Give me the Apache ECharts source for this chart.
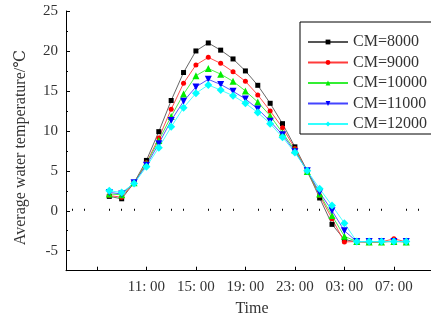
<!DOCTYPE html>
<html>
<head>
<meta charset="utf-8">
<script src="https://cdn.jsdelivr.net/npm/echarts@6/dist/echarts.min.js"></script>
<style>
html,body{margin:0;padding:0;background:#fff;}
#c{width:431px;height:322px;}
</style>
</head>
<body>
<div id="c"></div>
<script>
var hours = [8,9,10,11,12,13,14,15,16,17,18,19,20,21,22,23,24,25,26,27,28,29,30,31,32];
var cm8000  = [1.8,1.5,3.5,6.3,9.9,13.8,17.3,20.0,21.0,20.1,19.0,17.5,15.7,13.45,10.9,8.0,5.0,1.6,-1.7,-3.6,-3.9,-3.9,-3.9,-3.8,-3.9];
var cm9000  = [1.9,1.7,3.5,6.0,9.1,12.7,15.95,18.25,19.2,18.45,17.4,16.2,14.5,12.5,10.4,7.8,4.9,1.9,-1.0,-3.9,-3.85,-3.9,-3.9,-3.5,-3.9];
var cm10000 = [2.1,2.0,3.5,5.9,8.8,11.8,14.6,16.9,17.8,17.1,16.2,15.0,13.6,11.9,9.75,7.6,4.9,2.1,-0.6,-3.2,-3.85,-3.9,-3.9,-3.85,-3.9];
var cm11000 = [2.3,2.1,3.5,5.7,8.4,11.3,13.7,15.5,16.45,15.8,14.95,14.0,12.75,11.2,9.5,7.4,5.0,2.3,0.0,-2.5,-3.85,-3.85,-3.85,-3.85,-3.85];
var cm12000 = [2.5,2.3,3.4,5.5,7.9,10.5,12.9,14.7,15.75,15.1,14.4,13.45,12.3,10.9,9.2,7.3,5.0,2.75,0.65,-1.55,-3.85,-3.85,-3.85,-3.85,-3.85];
var seriesNames = ['CM=8000','CM=9000','CM=10000','CM=11000','CM=12000'];
var xTickLabels = {11:'11: 00',15:'15: 00',19:'19: 00',23:'23: 00',27:'03: 00',31:'07: 00'};
var xLabelValues = [11,15,19,23,27,31];
var xMajorTicks = [7,11,15,19,23,27,31];
var xMinorTicks = [5,6,8,9,10,12,13,14,16,17,18,20,21,22,24,25,26,28,29,30,32,33];
var yLabelValues = [-5,0,5,10,15,20,25];
var yMinorTicks = [-2.5,2.5,7.5,12.5,17.5,22.5];
var yTitle = 'Average water temperature/℃';
var xTitle = 'Time';

function pairs(vals){ return hours.map(function(h,i){ return [h, vals[i]]; }); }

var FONT = "'Liberation Serif','DejaVu Serif',serif";
var chart = echarts.init(document.getElementById('c'), null, {renderer:'canvas'});
var axisLineStyle = {color:'#000', width:1};
var styles = [
  {color:'#000000', line:'#555555', symbol:'rect', size:5, rotate:0},
  {color:'#ff0000', line:'#ff3b3b', symbol:'circle', size:5, rotate:0},
  {color:'#00ee00', line:'#33ee33', symbol:'triangle', size:7, rotate:0},
  {color:'#0000ff', line:'#4444ff', symbol:'triangle', size:7, rotate:180},
  {color:'#00ffff', line:'#33ffff', symbol:'diamond', size:8, rotate:0}
];
var data = [cm8000, cm9000, cm10000, cm11000, cm12000];

chart.setOption({
  animation:false,
  backgroundColor:'#fff',
  grid:{left:66, top:11, right:-2, bottom:51.3, containLabel:false},
  xAxis:[{
    type:'value', min:4.5, max:34,
    axisLine:{show:true, onZero:false, lineStyle:axisLineStyle},
    axisTick:{show:true, inside:true, length:4, customValues:xMajorTicks, lineStyle:axisLineStyle},
    axisLabel:{show:true, customValues:xLabelValues, margin:9, color:'#333', fontFamily:FONT, fontSize:15,
      formatter:function(v){ return xTickLabels[v] || ''; }},
    splitLine:{show:false}
  },{
    type:'value', min:4.5, max:34, position:'bottom',
    axisLine:{show:false},
    axisTick:{show:true, inside:true, length:2, customValues:xMinorTicks, lineStyle:axisLineStyle},
    axisLabel:{show:false},
    splitLine:{show:false}
  }],
  yAxis:[{
    type:'value', min:-7.5, max:25,
    axisLine:{show:true, onZero:false, lineStyle:axisLineStyle},
    axisTick:{show:true, inside:true, length:4, customValues:yLabelValues, lineStyle:axisLineStyle},
    axisLabel:{show:true, customValues:yLabelValues, margin:8, color:'#333', fontFamily:FONT, fontSize:15},
    splitLine:{show:false}
  },{
    type:'value', min:-7.5, max:25, position:'left',
    axisLine:{show:false},
    axisTick:{show:true, inside:true, length:2, customValues:yMinorTicks, lineStyle:axisLineStyle},
    axisLabel:{show:false},
    splitLine:{show:false}
  }],
  legend:{
    orient:'vertical', left:300, top:22,
    borderColor:'#000', borderWidth:1, borderRadius:0,
    padding:[12,40,2,7],
    itemWidth:40, itemHeight:6, itemGap:4.5,
    textStyle:{color:'#333', fontFamily:FONT, fontSize:16, lineHeight:16},
    data:seriesNames
  },
  graphic:[
    {type:'text', x:21, y:147.5, rotation:Math.PI/2,
     style:{text:yTitle, fill:'#333', font:'16px '+FONT, textAlign:'center', textVerticalAlign:'middle'}},
    {type:'text', x:252, y:309,
     style:{text:xTitle, fill:'#333', font:'16px '+FONT, textAlign:'center', textVerticalAlign:'middle'}}
  ],
  series: data.map(function(d,i){
    var s = styles[i];
    return {
      name:seriesNames[i], type:'line', data:pairs(d),
      xAxisIndex:0, yAxisIndex:0,
      symbol:s.symbol, symbolSize:s.size, symbolRotate:s.rotate,
      showAllSymbol:true,
      lineStyle:{color:s.line, width:0.9},
      itemStyle:{color:s.color, borderWidth:0},
      emphasis:{disabled:true}
    };
  })
});
</script>
</body>
</html>
